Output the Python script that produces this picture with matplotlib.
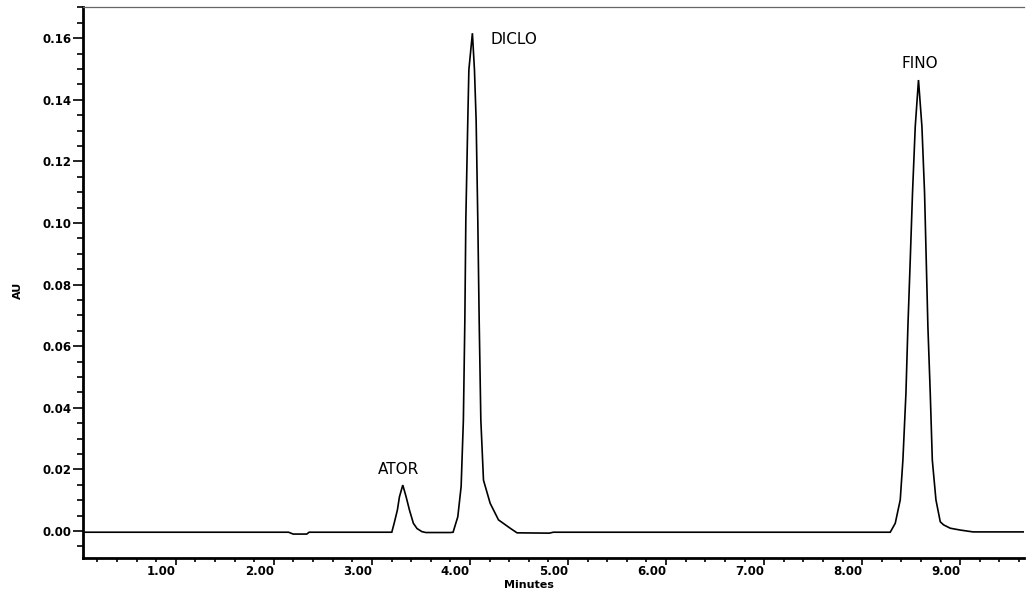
import matplotlib
matplotlib.use("Agg")
import matplotlib.pyplot as plt
from matplotlib.ticker import MultipleLocator, FormatStrFormatter

# Chromatogram trace (time in minutes, absorbance in AU)
time_min = [0.05, 2.15, 2.197, 2.336, 2.36,
            3.203, 3.227, 3.260, 3.281, 3.315, 3.349, 3.383, 3.423, 3.46, 3.509, 3.55,
            3.80, 3.828, 3.876, 3.910, 3.933, 3.948, 3.958, 3.978, 3.989, 4.025,
            4.046, 4.063, 4.080, 4.094, 4.111, 4.138, 4.206, 4.291, 4.41, 4.48,
            4.81, 4.85, 8.25, 8.286, 8.337, 8.388, 8.415, 8.446, 8.466, 8.490,
            8.513, 8.541, 8.574, 8.609, 8.636, 8.653, 8.670, 8.694, 8.715, 8.752,
            8.796, 8.829, 8.898, 9.00, 9.13, 9.65]
absorbance = [-0.0004, -0.0004, -0.0010, -0.0010, -0.0004,
              -0.0004, 0.0025, 0.0068, 0.0111, 0.0149, 0.0111, 0.0068, 0.0025, 0.0008, -0.0002, -0.0005,
              -0.0005, -0.0004, 0.0046, 0.0144, 0.0360, 0.0685, 0.1010, 0.1334, 0.1497, 0.1616,
              0.1497, 0.1334, 0.1010, 0.0685, 0.0360, 0.0165, 0.0090, 0.0036, 0.0009, -0.0006,
              -0.0007, -0.0004, -0.0004, -0.0004, 0.0025, 0.0101, 0.0230, 0.0447, 0.0663, 0.0880,
              0.1097, 0.1313, 0.1464, 0.1313, 0.1097, 0.0880, 0.0663, 0.0447, 0.0230, 0.0101,
              0.0030, 0.0020, 0.0009, 0.0003, -0.0003, -0.0003]

peak_names = ["ATOR", "DICLO", "FINO"]
peak_label_x = [3.276, 4.448, 8.587]
peak_label_y = [0.0200, 0.1595, 0.1516]

x_ticks = [1, 2, 3, 4, 5, 6, 7, 8, 9]
y_ticks = [0.00, 0.02, 0.04, 0.06, 0.08, 0.10, 0.12, 0.14, 0.16]

W, H = 1026, 596
fig = plt.figure(figsize=(W / 100, H / 100), dpi=100)
ax = fig.add_axes([83 / W, 1 - 558 / H, (1024 - 83) / W, (558 - 7) / H])

ax.plot(time_min, absorbance, color="black", lw=1.2, solid_joinstyle="miter")

ax.set_xlim(0.054, 9.65)
ax.set_ylim(-0.00877, 0.1701)

ax.set_xticks(x_ticks)
ax.xaxis.set_minor_locator(MultipleLocator(0.2))
ax.xaxis.set_major_formatter(FormatStrFormatter("%.2f"))
ax.set_yticks(y_ticks)
ax.yaxis.set_minor_locator(MultipleLocator(0.005))
ax.yaxis.set_major_formatter(FormatStrFormatter("%.2f"))

tick_font = dict(family="DejaVu Sans", size=8.5, weight="bold")
for lab in ax.get_xticklabels():
    lab.set_fontproperties(matplotlib.font_manager.FontProperties(**tick_font))
    lab.set_ha("right")
for lab in ax.get_yticklabels():
    lab.set_fontproperties(matplotlib.font_manager.FontProperties(**tick_font))

ax.tick_params(axis="y", which="major", direction="out", length=7.5, width=1.2, pad=1)
ax.tick_params(axis="y", which="minor", direction="out", length=4.5, width=1.2)
ax.tick_params(axis="x", which="major", direction="out", length=5, width=1.2, pad=0)
ax.tick_params(axis="x", which="minor", direction="out", length=3, width=1.2)

ax.spines["left"].set_linewidth(2)
ax.spines["bottom"].set_linewidth(2)
ax.spines["right"].set_visible(False)
ax.spines["top"].set_linewidth(0.9)
ax.spines["top"].set_color("#666666")

for name, tx, ty in zip(peak_names, peak_label_x, peak_label_y):
    ax.text(tx, ty, name, ha="center", va="center", fontsize=11,
            family="DejaVu Sans", color="black")

fig.text(529 / W, 1 - 585 / H, "Minutes", ha="center", va="center",
         fontsize=8, weight="bold", family="DejaVu Sans")
fig.text(18 / W, 1 - 290 / H, "AU", ha="center", va="center", rotation=90,
         fontsize=8, weight="bold", family="DejaVu Sans")

fig.savefig("out.png", dpi=100)
